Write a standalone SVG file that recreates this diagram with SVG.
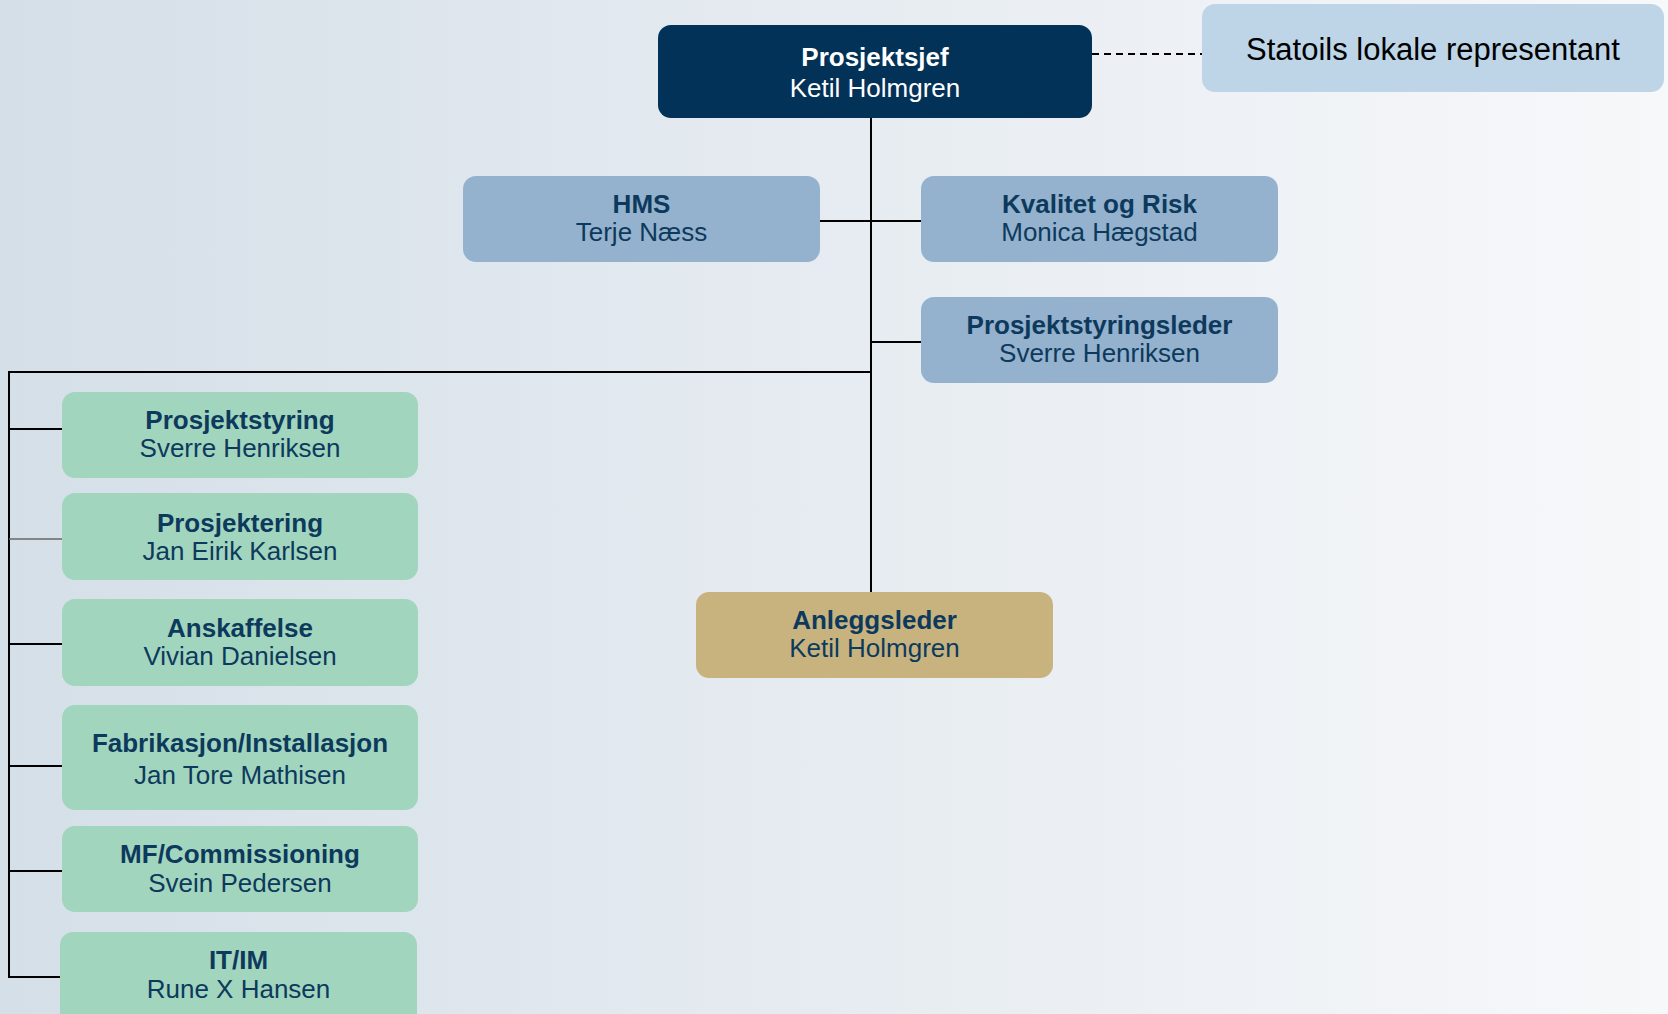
<svg xmlns="http://www.w3.org/2000/svg" width="1668" height="1014" viewBox="0 0 1668 1014">
<defs>
<linearGradient id="bg" x1="0" y1="0" x2="1" y2="0">
<stop offset="0" stop-color="#d5dfe8"/>
<stop offset="1" stop-color="#f7f8fa"/>
</linearGradient>
<style>
.t{font-family:"Liberation Sans",Arial,sans-serif;font-size:26px;text-anchor:middle;fill:#0d3a5c}
.b{font-weight:bold}
.w{fill:#ffffff}
.blue{fill:#94b1ce}
.green{fill:#a2d5be}
.tan{fill:#c8b37f}
.navy{fill:#023258}
.light{fill:#bdd5e7}
.ln{stroke:#000;stroke-width:2;fill:none}
</style>
</defs>
<rect width="1668" height="1014" fill="url(#bg)"/>
<g id="connectors">
<line class="ln" x1="1092" y1="54" x2="1202" y2="54" stroke-dasharray="7,5" stroke-width="1.6"/>
<line class="ln" x1="871" y1="118" x2="871" y2="592"/>
<line class="ln" x1="820" y1="221" x2="921" y2="221"/>
<line class="ln" x1="871" y1="342" x2="921" y2="342"/>
<line class="ln" x1="8" y1="372" x2="871" y2="372"/>
<line class="ln" x1="9" y1="371" x2="9" y2="978"/>
<line class="ln" x1="9" y1="429" x2="62" y2="429"/>
<line x1="9" y1="539" x2="62" y2="539" stroke="#666" stroke-width="1.5"/>
<line class="ln" x1="9" y1="644" x2="62" y2="644"/>
<line class="ln" x1="9" y1="766" x2="62" y2="766"/>
<line class="ln" x1="9" y1="871" x2="62" y2="871"/>
<line class="ln" x1="9" y1="977" x2="60" y2="977"/>
</g>
<g id="prosjektsjef">
<rect class="navy" x="658" y="25" width="434" height="93" rx="13"/>
<text class="t b w" x="875" y="66">Prosjektsjef</text>
<text class="t w" x="875" y="97">Ketil Holmgren</text>
</g>
<g id="statoil">
<rect class="light" x="1202" y="4" width="462" height="88" rx="13"/>
<text class="t" x="1433" y="60" style="font-size:31px;fill:#000">Statoils lokale representant</text>
</g>
<g id="hms">
<rect class="blue" x="463" y="176" width="357" height="86" rx="13"/>
<text class="t b" x="641.5" y="213">HMS</text>
<text class="t" x="641.5" y="241">Terje Næss</text>
</g>
<g id="kvalitet">
<rect class="blue" x="921" y="176" width="357" height="86" rx="13"/>
<text class="t b" x="1099.5" y="213">Kvalitet og Risk</text>
<text class="t" x="1099.5" y="241">Monica Hægstad</text>
</g>
<g id="prosjektstyringsleder">
<rect class="blue" x="921" y="297" width="357" height="86" rx="13"/>
<text class="t b" x="1099.5" y="334">Prosjektstyringsleder</text>
<text class="t" x="1099.5" y="362">Sverre Henriksen</text>
</g>
<g id="anleggsleder">
<rect class="tan" x="696" y="592" width="357" height="86" rx="13"/>
<text class="t b" x="874.5" y="629">Anleggsleder</text>
<text class="t" x="874.5" y="657">Ketil Holmgren</text>
</g>
<g id="prosjektstyring">
<rect class="green" x="62" y="392" width="356" height="86" rx="13"/>
<text class="t b" x="240" y="429">Prosjektstyring</text>
<text class="t" x="240" y="457">Sverre Henriksen</text>
</g>
<g id="prosjektering">
<rect class="green" x="62" y="493" width="356" height="87" rx="13"/>
<text class="t b" x="240" y="532">Prosjektering</text>
<text class="t" x="240" y="560">Jan Eirik Karlsen</text>
</g>
<g id="anskaffelse">
<rect class="green" x="62" y="599" width="356" height="87" rx="13"/>
<text class="t b" x="240" y="637">Anskaffelse</text>
<text class="t" x="240" y="665">Vivian Danielsen</text>
</g>
<g id="fabrikasjon">
<rect class="green" x="62" y="705" width="356" height="105" rx="13"/>
<text class="t b" x="240" y="752">Fabrikasjon/Installasjon</text>
<text class="t" x="240" y="784">Jan Tore Mathisen</text>
</g>
<g id="mf">
<rect class="green" x="62" y="826" width="356" height="86" rx="13"/>
<text class="t b" x="240" y="863">MF/Commissioning</text>
<text class="t" x="240" y="892">Svein Pedersen</text>
</g>
<g id="itim">
<rect class="green" x="60" y="932" width="357" height="96" rx="13"/>
<text class="t b" x="238.5" y="969">IT/IM</text>
<text class="t" x="238.5" y="998">Rune X Hansen</text>
</g>
</svg>
